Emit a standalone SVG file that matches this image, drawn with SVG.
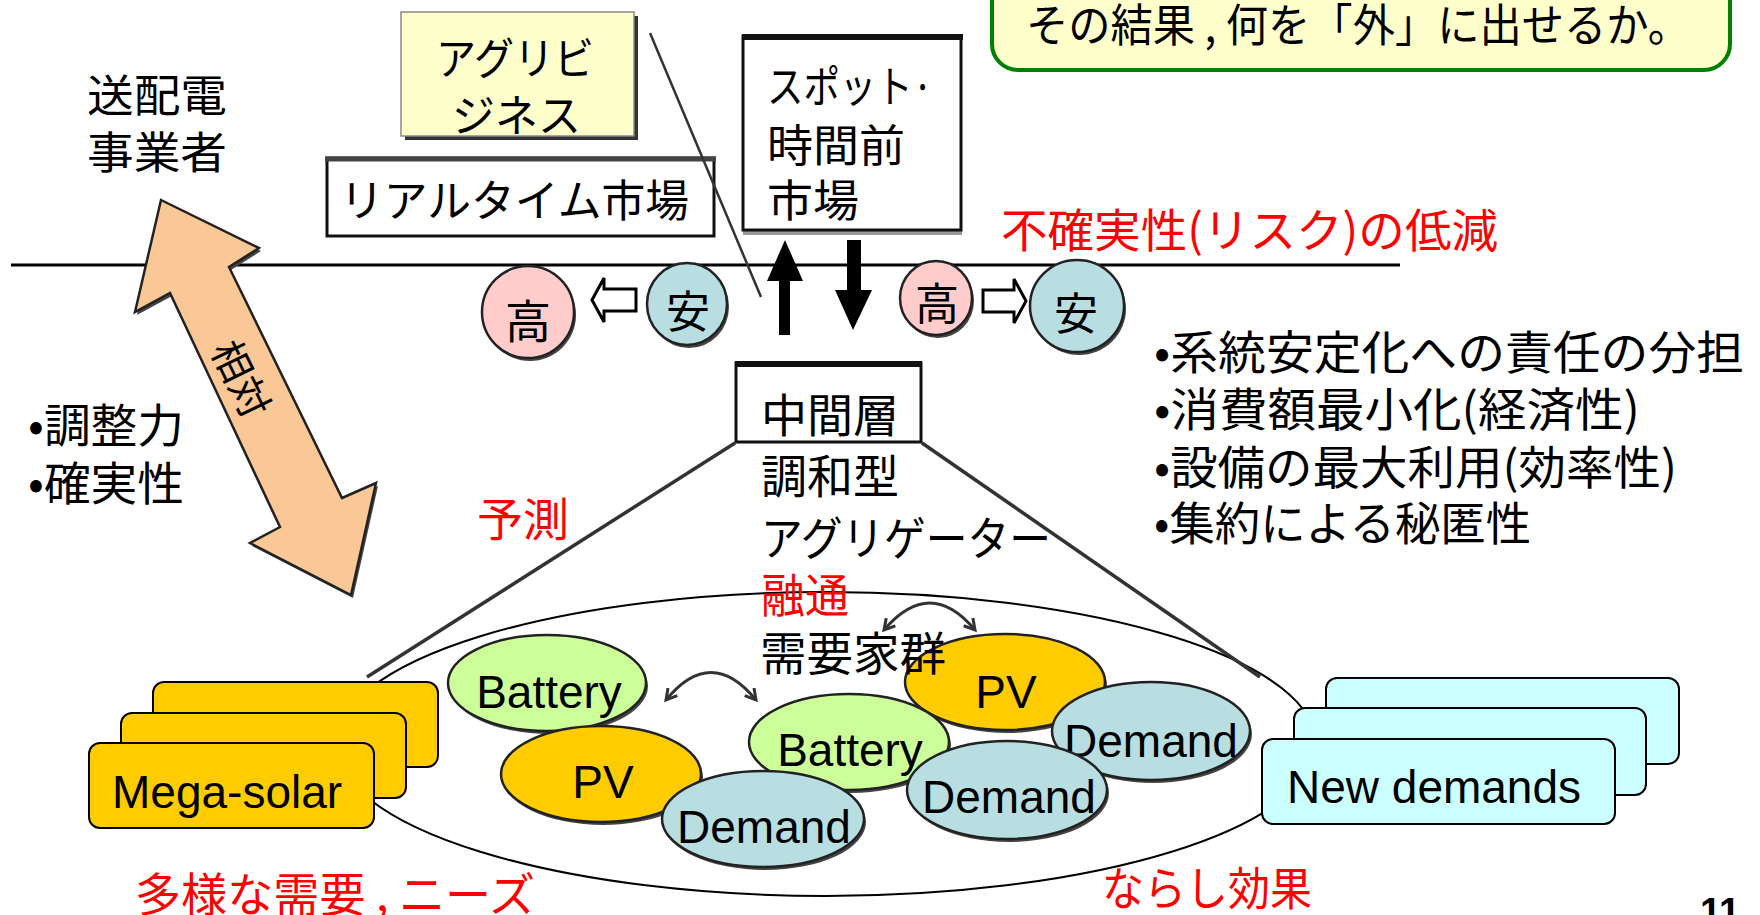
<svg xmlns="http://www.w3.org/2000/svg" width="1760" height="915" viewBox="0 0 1760 915">
<defs>
<style>
.jp{font-family:"Noto Sans CJK JP","Noto Sans CJK SC",sans-serif;fill:#000}
.red{fill:#FF0000}
.en{font-family:"Liberation Sans",Arial,sans-serif;fill:#000;font-size:46px}
.box{fill:#fff;stroke:#111;stroke-width:3}
.el{stroke:#222;stroke-width:2.5}
.sh{fill:#444}
.bat{fill:#CCFF99}
.pv{fill:#FFCC00}
.dem{fill:#B8DEE2}
.pink{fill:#FFCCCC}
.ms{fill:#FFCC00;stroke:#000;stroke-width:2}
.nd{fill:#CCFFFF;stroke:#000;stroke-width:2}
.conn{fill:none;stroke:#333;stroke-width:3}
</style>
<marker id="ah" viewBox="0 0 10 10" refX="8" refY="5" markerWidth="5" markerHeight="5" orient="auto-start-reverse" markerUnits="strokeWidth">
<path d="M1,1 L8,5 L1,9" fill="none" stroke="#333" stroke-width="2"/>
</marker>
</defs>
<rect width="1760" height="915" fill="#fff"/>

<g id="callout">
<rect x="992" y="-40" width="738" height="110" rx="26" fill="#FFFFCC" stroke="#008000" stroke-width="4"/>
<text class="jp" x="1026" y="42" font-size="45" textLength="664" lengthAdjust="spacingAndGlyphs">その結果 , 何を「外」に出せるか。</text>
</g>

<g id="tso">
<text class="jp" x="87" y="112" font-size="44" textLength="140" lengthAdjust="spacingAndGlyphs">送配電</text>
<text class="jp" x="87" y="169" font-size="44" textLength="140" lengthAdjust="spacingAndGlyphs">事業者</text>
</g>

<g id="agribiz">
<rect x="405" y="16" width="233" height="124" fill="#333"/>
<rect x="401" y="12" width="233" height="124" fill="#FFFFCC" stroke="#888" stroke-width="1.5"/>
<text class="jp" x="436" y="75" font-size="44" textLength="158" lengthAdjust="spacingAndGlyphs">アグリビ</text>
<text class="jp" x="452" y="132" font-size="44" textLength="129" lengthAdjust="spacingAndGlyphs">ジネス</text>
</g>

<g id="realtime">
<rect class="box" x="327" y="158" width="387" height="78"/>
<line x1="325" y1="159" x2="716" y2="159" stroke="#444" stroke-width="5"/>
<text class="jp" x="340" y="217" font-size="44" textLength="349" lengthAdjust="spacingAndGlyphs">リアルタイム市場</text>
</g>

<g id="spot">
<rect x="743" y="229" width="219" height="6" fill="#999"/>
<rect class="box" x="743" y="36" width="218" height="194"/>
<line x1="742" y1="37" x2="963" y2="37" stroke="#111" stroke-width="6"/>
<text class="jp" x="767" y="103" font-size="44" textLength="166" lengthAdjust="spacingAndGlyphs">スポット·</text>
<text class="jp" x="767" y="162" font-size="44" textLength="138" lengthAdjust="spacingAndGlyphs">時間前</text>
<text class="jp" x="767" y="217" font-size="44" textLength="92" lengthAdjust="spacingAndGlyphs">市場</text>
</g>

<g id="risk">
<text class="jp red" x="1001" y="247" font-size="46" textLength="497" lengthAdjust="spacingAndGlyphs">不確実性(リスク)の低減</text>
</g>

<g id="group-ellipse">
<ellipse cx="826" cy="744" rx="490" ry="152" fill="none" stroke="#000" stroke-width="2"/>
</g>

<g id="connectors">
<line x1="11" y1="265" x2="1400" y2="265" stroke="#000" stroke-width="3"/>
<line x1="650" y1="33" x2="761" y2="297" stroke="#333" stroke-width="2.5"/>
<line x1="735" y1="443" x2="367" y2="677" stroke="#333" stroke-width="3.5"/>
<line x1="922" y1="443" x2="1260" y2="677" stroke="#333" stroke-width="3.5"/>
<polygon points="785,240 803,281 790,281 790,335 779,335 779,281 767,281" fill="#000"/>
<polygon points="853,330 872,290 861,290 861,240 847,240 847,290 835,290" fill="#000"/>
<path d="M592,300 L604,278 L604,289 L636,289 L636,311 L604,311 L604,322 Z" fill="#fff" stroke="#000" stroke-width="3"/>
<path d="M1026,301 L1014,279 L1014,290 L983,290 L983,312 L1014,312 L1014,323 Z" fill="#fff" stroke="#000" stroke-width="3"/>
<path class="conn" d="M666,700 Q711,645 756,700" marker-start="url(#ah)" marker-end="url(#ah)"/>
<path class="conn" d="M884,630 Q930,576 975,630" marker-start="url(#ah)" marker-end="url(#ah)"/>
</g>

<g id="relative-arrow">
<polygon points="163,203 261,251 231,270 344,501 378,486 353,598 252,546 282,530 172,296 137,315" fill="#444"/>
<polygon points="161,200 259,248 229,267 342,498 376,483 351,595 250,543 280,527 170,293 135,312" fill="#FAC896" stroke="#222" stroke-width="2.5"/>
<text class="jp" x="243" y="378" font-size="40" text-anchor="middle" dominant-baseline="central" transform="rotate(64 243 378)">相対</text>
</g>

<g id="hi-left">
<ellipse class="sh" cx="530" cy="315" rx="46" ry="46"/>
<ellipse class="pink el" cx="528" cy="312" rx="46" ry="46"/>
<text class="jp" x="528" y="338" font-size="46" text-anchor="middle">高</text>
</g>
<g id="yasu-left">
<ellipse class="sh" cx="689" cy="307" rx="40" ry="41"/>
<ellipse class="dem el" cx="687" cy="304" rx="40" ry="41"/>
<text class="jp" x="688" y="328" font-size="44" text-anchor="middle">安</text>
</g>
<g id="hi-right">
<ellipse class="sh" cx="938" cy="301" rx="36" ry="37"/>
<ellipse class="pink el" cx="936" cy="298" rx="36" ry="37"/>
<text class="jp" x="937" y="320" font-size="44" text-anchor="middle">高</text>
</g>
<g id="yasu-right">
<ellipse class="sh" cx="1079" cy="309" rx="47" ry="46"/>
<ellipse class="dem el" cx="1077" cy="306" rx="47" ry="46"/>
<text class="jp" x="1076" y="330" font-size="44" text-anchor="middle">安</text>
</g>

<g id="intermediate">
<rect class="box" x="736" y="363" width="185" height="79"/>
<line x1="735" y1="364" x2="922" y2="364" stroke="#111" stroke-width="6"/>
<text class="jp" x="761" y="432" font-size="46" textLength="138" lengthAdjust="spacingAndGlyphs">中間層</text>
</g>

<g id="benefits">
<text class="jp" x="1154" y="369" font-size="46" textLength="590" lengthAdjust="spacingAndGlyphs">•系統安定化への責任の分担</text>
<text class="jp" x="1154" y="426" font-size="46" textLength="486" lengthAdjust="spacingAndGlyphs">•消費額最小化(経済性)</text>
<text class="jp" x="1154" y="484" font-size="46" textLength="523" lengthAdjust="spacingAndGlyphs">•設備の最大利用(効率性)</text>
<text class="jp" x="1154" y="540" font-size="46" textLength="377" lengthAdjust="spacingAndGlyphs">•集約による秘匿性</text>
</g>

<g id="adjust">
<text class="jp" x="28" y="442" font-size="46" textLength="156" lengthAdjust="spacingAndGlyphs">•調整力</text>
<text class="jp" x="28" y="500" font-size="46" textLength="156" lengthAdjust="spacingAndGlyphs">•確実性</text>
</g>

<g id="forecast">
<text class="jp red" x="477" y="536" font-size="46" textLength="92" lengthAdjust="spacingAndGlyphs">予測</text>
</g>

<g id="battery-left">
<ellipse class="sh" cx="549" cy="686" rx="99" ry="48"/>
<ellipse class="bat el" cx="547" cy="683" rx="99" ry="48"/>
<text class="en" x="549" y="708" text-anchor="middle">Battery</text>
</g>
<g id="pv-left">
<ellipse class="sh" cx="603" cy="777" rx="100" ry="48"/>
<ellipse class="pv el" cx="601" cy="774" rx="100" ry="48"/>
<text class="en" x="603" y="798" text-anchor="middle">PV</text>
</g>
<g id="pv-right">
<ellipse class="sh" cx="1007" cy="685" rx="100" ry="48"/>
<ellipse class="pv el" cx="1005" cy="682" rx="100" ry="48"/>
<text class="en" x="1006" y="708" text-anchor="middle">PV</text>
</g>
<g id="battery-mid">
<ellipse class="sh" cx="851" cy="745" rx="100" ry="48"/>
<ellipse class="bat el" cx="849" cy="742" rx="100" ry="48"/>
<text class="en" x="850" y="766" text-anchor="middle">Battery</text>
</g>
<g id="demand-left">
<ellipse class="sh" cx="765" cy="822" rx="101" ry="48"/>
<ellipse class="dem el" cx="763" cy="819" rx="101" ry="48"/>
<text class="en" x="764" y="843" text-anchor="middle">Demand</text>
</g>
<g id="demand-right">
<ellipse class="sh" cx="1153" cy="734" rx="99" ry="49"/>
<ellipse class="dem el" cx="1151" cy="731" rx="99" ry="49"/>
<text class="en" x="1151" y="757" text-anchor="middle">Demand</text>
</g>
<g id="demand-mid">
<ellipse class="sh" cx="1009" cy="793" rx="100" ry="49"/>
<ellipse class="dem el" cx="1007" cy="790" rx="100" ry="49"/>
<text class="en" x="1009" y="813" text-anchor="middle">Demand</text>
</g>

<g id="aggregator-label">
<text class="jp" x="761" y="493" font-size="46" textLength="138" lengthAdjust="spacingAndGlyphs">調和型</text>
<text class="jp" x="761" y="555" font-size="46" textLength="290" lengthAdjust="spacingAndGlyphs">アグリゲーター</text>
<text class="jp red" x="761" y="612" font-size="46" textLength="88" lengthAdjust="spacingAndGlyphs">融通</text>
<text class="jp" x="760" y="670" font-size="46" textLength="186" lengthAdjust="spacingAndGlyphs">需要家群</text>
</g>

<g id="mega-solar">
<rect class="ms" x="153" y="682" width="285" height="85" rx="11"/>
<text class="en" x="176" y="748" font-size="48">Mega-solar</text>
<rect class="ms" x="121" y="713" width="285" height="85" rx="11"/>
<text class="en" x="144" y="778" font-size="48">Mega-solar</text>
<rect class="ms" x="89" y="743" width="285" height="85" rx="11"/>
<text class="en" x="112" y="808" font-size="48">Mega-solar</text>
</g>

<g id="new-demands">
<rect class="nd" x="1326" y="678" width="353" height="86" rx="11"/>
<text class="en" x="1351" y="742" font-size="48">New demands</text>
<rect class="nd" x="1294" y="708" width="352" height="87" rx="11"/>
<text class="en" x="1319" y="772" font-size="48">New demands</text>
<rect class="nd" x="1262" y="739" width="353" height="85" rx="11"/>
<text class="en" x="1287" y="803" font-size="48">New demands</text>
</g>

<g id="labels-bottom">
<text class="jp red" x="135" y="911" font-size="46" textLength="400" lengthAdjust="spacingAndGlyphs">多様な需要 , ニーズ</text>
<text class="jp red" x="1102" y="905" font-size="46" textLength="210" lengthAdjust="spacingAndGlyphs">ならし効果</text>
<text x="1700" y="925" font-family="Liberation Sans, Arial, sans-serif" font-weight="bold" font-size="38" fill="#000">11</text>
</g>
</svg>
